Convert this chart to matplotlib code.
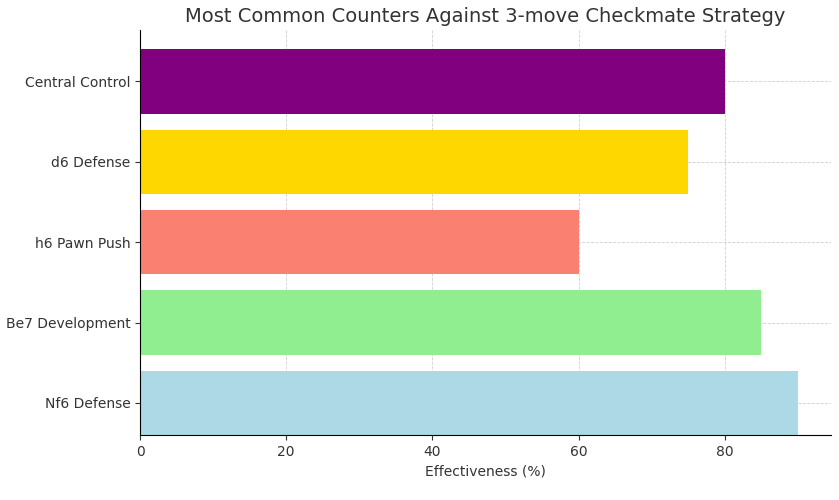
import matplotlib
matplotlib.use("Agg")
import matplotlib.pyplot as plt

categories = ["Nf6 Defense", "Be7 Development", "h6 Pawn Push", "d6 Defense", "Central Control"]
values = [90, 85, 60, 75, 80]
colors = ["lightblue", "lightgreen", "salmon", "gold", "purple"]

fig, ax = plt.subplots(figsize=(8.39, 5.0), dpi=100)
ax.barh(categories, values, color=colors, zorder=2)
ax.set_ylim(-0.4, 4.64)
ax.set_xlabel("Effectiveness (%)", fontsize=10, color="#333333")
ax.set_title("Most Common Counters Against 3-move Checkmate Strategy", fontsize=14, color="#333333")
ax.grid(True, linestyle="--", linewidth=0.6, alpha=0.6, zorder=0)
ax.spines["top"].set_visible(False)
ax.spines["right"].set_visible(False)
ax.tick_params(labelsize=10, colors="#333333")
fig.subplots_adjust(left=0.167, right=0.99, top=0.94, bottom=0.13)
fig.savefig("out.png")
